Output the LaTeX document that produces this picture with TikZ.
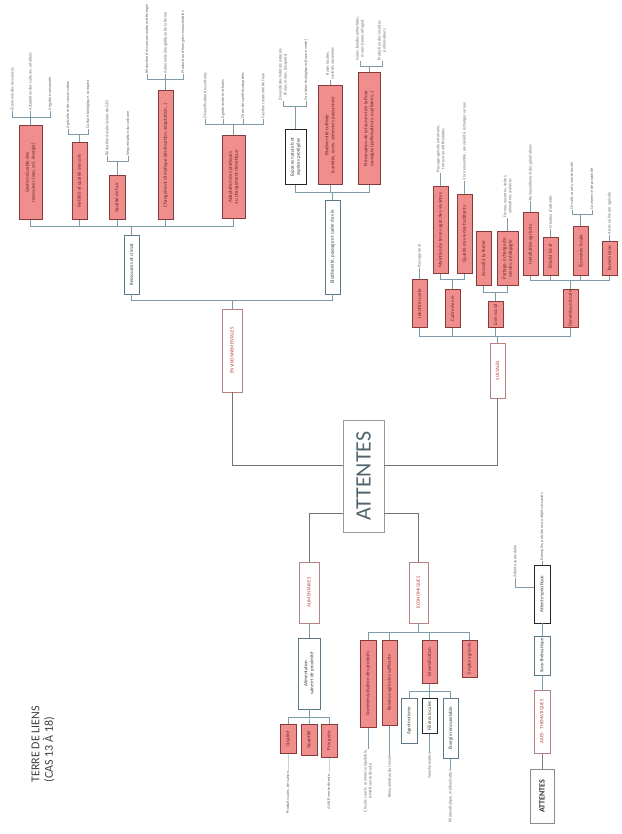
\documentclass[tikz,border=0pt]{standalone}
\usepackage{fontspec}
\setmainfont{Carlito}

\definecolor{linkc}{RGB}{125,155,170}
\definecolor{redf}{RGB}{240,142,142}
\definecolor{redd}{RGB}{135,60,60}
\definecolor{redt}{RGB}{110,35,35}
\definecolor{axed}{RGB}{185,130,130}
\definecolor{axet}{RGB}{190,70,70}
\definecolor{subd}{RGB}{90,120,135}
\definecolor{leaft}{RGB}{105,105,105}
\definecolor{attt}{RGB}{80,100,112}

\tikzset{
  cell/.style={rotate=90, inner sep=1pt, align=center, font=\fontsize{5}{6}\selectfont},
  rcell/.style={cell, draw=redd, fill=redf, text=redt, line width=0.6pt},
  axecell/.style={cell, draw=axed, fill=white, text=axet, line width=0.6pt},
  subcell/.style={cell, draw=subd, fill=white, text=black!75, line width=0.5pt},
  kcell/.style={cell, draw=black!85, fill=white, text=black!75, line width=0.9pt},
  leaf/.style={rotate=90, inner sep=0.5pt, align=center, text=leaft, font=\fontsize{4.2}{5}\selectfont},
  link/.style={draw=linkc, line width=0.6pt},
  mainlink/.style={draw=black!55, line width=0.7pt}
}

\begin{document}
\begin{tikzpicture}[x=1pt, y=-1pt]
\useasboundingbox (0,0) rectangle (621,834);

% titre
\node[rotate=90, anchor=north west, align=left, font=\fontsize{12}{13.5}\selectfont, text=black!75] (titre) at (28,786) {TERRE DE LIENS\\(CAS 13 À 18)};

% centre et axes
\node[cell, draw=black!40, fill=white, text=attt, font=\fontsize{22}{24}\selectfont, minimum width=112, minimum height=41] (att) at (363.5,476) {ATTENTES};
\node[axecell, minimum width=83, minimum height=20] (env) at (232,350.5) {ENVIRONNEMENTALES};
\node[axecell, minimum width=55, minimum height=15] (soc) at (497.5,370.5) {SOCIALES};
\node[axecell, minimum width=61, minimum height=20] (alim) at (309,592.5) {ALIMENTAIRES};
\node[axecell, minimum width=61, minimum height=19] (eco) at (418.5,592.5) {ECONOMIQUES};

\draw[mainlink] (att.62) -| (env.west);
\draw[mainlink] (att.-62) -| (soc.west);
\draw[mainlink] (att.151) -| (alim.east);
\draw[mainlink] (att.-151) -| (eco.east);

% environnementales
\node[subcell, minimum width=59, minimum height=15] (res) at (131.5,264.5) {Ressources et climat};
\node[subcell, minimum width=94, minimum height=15] (bio) at (332.5,247) {Biodiversité, paysage et cadre de vie};
\foreach \c in {res,bio}
  \draw[link] (env.east) -- ++(0,-8) -| (\c.west);

\node[rcell, anchor=west, minimum width=94, minimum height=23] (gest) at (30.5,220) {Gestion durable des\\ressources (eau, sol, énergie)};
\node[rcell, anchor=west, minimum width=77, minimum height=15] (fert) at (79.5,220) {Fertilité et qualité des sols};
\node[rcell, anchor=west, minimum width=44, minimum height=16] (air) at (117,220) {Qualité de l'air};
\node[rcell, anchor=west, minimum width=129, minimum height=15] (clim) at (165.5,220) {Changement climatique (atténuation, adaptation...)};
\node[rcell, anchor=west, minimum width=83, minimum height=23] (adapt) at (233.5,219) {Adaptation des pratiques\\au changement climatique};
\foreach \c in {gest,fert,air,clim,adapt}
  \draw[link] (res.east) -- ++(0,-8) -| (\c.west);

\foreach \n/\x/\y/\t in {gest1/12/111/{Économie des ressources}, gest2/30.5/111/{Adaptation des cultures, rotations}, gest3/50/111/{Irrigation raisonnée},
    fert1/68/129/{Agriculture de conservation}, fert2/88/129/{Culture biologique, compost},
    air1/107/156/{Réduction des émissions de GES}, air2/128/156/{Séquestration du carbone},
    clim1/147/74/{Réduction des consommations d'énergie}, clim2/165.5/74/{Autonomie énergétique de la ferme}, clim3/183/74/{Production d'énergies renouvelables},
    adapt1/205/119/{Diversification des cultures}, adapt2/223/119/{Agroforesterie et haies}, adapt3/243/119/{Choix de variétés adaptées}, adapt4/263/119/{Gestion raisonnée de l'eau}}
  \node[leaf, anchor=west] (\n) at (\x,\y) {\t};

\foreach \p/\l/\d in {gest/gest1/8, gest/gest2/8, gest/gest3/8, fert/fert1/8, fert/fert2/8, air/air1/14, air/air2/14,
    clim/clim1/11, clim/clim2/11, clim/clim3/11, adapt/adapt1/11, adapt/adapt2/11, adapt/adapt3/11, adapt/adapt4/11}
  \draw[link] (\p.east) -- ++(0,-\d) -| (\l.west);

\node[kcell, anchor=west, minimum width=55, minimum height=21] (esp) at (295.5,185) {Espaces naturels et\\espèces protégées};
\node[rcell, anchor=west, minimum width=99, minimum height=24] (biocult) at (330,185) {Biodiversité cultivée\\(variétés, races, semences paysannes)};
\node[rcell, anchor=west, minimum width=112, minimum height=22] (faune) at (369,185) {Préservation de la faune et de la flore\\sauvages (pollinisateurs, auxiliaires...)};
\foreach \c in {esp,biocult,faune}
  \draw[link] (bio.east) -- ++(0,-7) -| (\c.west);

\node[leaf, anchor=west] (esp1) at (283,101) {Diversité des habitats naturels\\(haies, mares, bosquets)};
\node[leaf, anchor=west] (esp2) at (306,101) {Corridors écologiques (trame verte)};
\node[leaf, anchor=west] (biol) at (330,80) {Races locales,\\variétés anciennes};
\node[leaf, anchor=west] (faune1) at (360,61) {Haies, bandes enherbées,\\mares (zones refuges)};
\node[leaf, anchor=west] (faune2) at (382,61) {Protection des insectes\\pollinisateurs};
\foreach \l in {esp1,esp2}
  \draw[link] (esp.east) -- ++(0,-23) -| (\l.west);
\draw[link] (biocult.east) -- (biol.west);
\foreach \l in {faune1,faune2}
  \draw[link] (faune.east) -- ++(0,-6) -| (\l.west);

% sociales
\node[rcell, anchor=west, minimum width=48, minimum height=15] (ident) at (419.5,328) {Identité rurale};
\node[rcell, anchor=west, minimum width=38, minimum height=15] (cadre) at (452.5,328) {Cadre de vie};
\node[rcell, anchor=west, minimum width=26, minimum height=15] (lien) at (495.5,328) {Lien social};
\node[rcell, anchor=west, minimum width=36, minimum height=15] (dyn) at (570.5,328) {Dynamique locale};
\foreach \c in {ident,cadre,lien,dyn}
  \draw[link] (soc.east) -- ++(0,-6) -| (\c.west);

\node[leaf, anchor=west] (identl) at (419.5,268) {Paysage rural};
\draw[link] (ident.east) -- (identl.west);

\node[rcell, anchor=west, minimum width=87, minimum height=15] (maint) at (440.5,274) {Maintien de terres agricoles vivantes};
\node[rcell, anchor=west, minimum width=79, minimum height=15] (qual) at (464.5,274) {Qualité de vie des habitants};
\foreach \c in {maint,qual}
  \draw[link] (cadre.east) -- ++(0,-10) -| (\c.west);
\node[leaf, anchor=west] (maintl) at (440.5,173) {Paysage agricole entretenu,\\terres non artificialisées};
\node[leaf, anchor=west] (quall) at (464.5,181) {Vivre ensemble, convivialité, échanges ruraux};
\draw[link] (maint.east) -- (maintl.west);
\draw[link] (qual.east) -- (quall.west);

\node[rcell, anchor=west, minimum width=54, minimum height=15] (accueil) at (483.5,286) {Accueil à la ferme};
\node[rcell, anchor=west, minimum width=54, minimum height=21] (partage) at (507.5,286) {Partage, échange de\\savoirs, pédagogie};
\foreach \c in {accueil,partage}
  \draw[link] (lien.east) -- ++(0,-9) -| (\c.west);
\node[leaf, anchor=west] (partagel) at (507.5,218) {Fermes ouvertes, visites,\\animations scolaires};
\draw[link] (partage.east) -- (partagel.west);

\node[rcell, anchor=west, minimum width=63, minimum height=15] (install) at (530.5,276) {Installation agricole};
\node[rcell, anchor=west, minimum width=38, minimum height=15] (emploi) at (550.5,276) {Emploi local};
\node[rcell, anchor=west, minimum width=49, minimum height=15] (ecoloc) at (580.5,276) {Économie locale};
\node[rcell, anchor=west, minimum width=34, minimum height=15] (transm) at (609.5,276) {Transmission};
\foreach \c in {install,emploi,ecoloc,transm}
  \draw[link] (dyn.east) -- ++(0,-9) -| (\c.west);
\node[leaf, anchor=west] (installl) at (530.5,201) {Renouvellement des générations};
\node[leaf, anchor=west] (emploil) at (550.5,229) {Création d'activités};
\node[leaf, anchor=west] (ecoloc1) at (572,210) {Circuits courts, vente locale};
\node[leaf, anchor=west] (ecoloc2) at (592,210) {Commerce de proximité};
\node[leaf, anchor=west] (transml) at (609.5,235) {Accès au foncier agricole};
\draw[link] (install.east) -- (installl.west);
\draw[link] (emploi.east) -- (emploil.west);
\draw[link] (transm.east) -- (transml.west);
\foreach \l in {ecoloc1,ecoloc2}
  \draw[link] (ecoloc.east) -- ++(0,-12) -| (\l.west);

% alimentaires
\node[subcell, minimum width=71, minimum height=22] (alimsaine) at (309,673.5) {Alimentation\\saine et de proximité};
\draw[link] (alim.west) -- (alimsaine.east);
\node[rcell, anchor=east, minimum width=29, minimum height=16] (qualite) at (288,724) {Qualité};
\node[rcell, anchor=east, minimum width=31, minimum height=16] (quantite) at (309,724) {Quantité};
\node[rcell, anchor=east, minimum width=33, minimum height=16] (prix) at (329,724) {Prix juste};
\foreach \c in {qualite,quantite,prix}
  \draw[link] (alimsaine.west) -- ++(0,8) -| (\c.east);
\node[leaf, anchor=east] (qualitel) at (288,771) {Produits sains, de saison};
\node[leaf, anchor=east] (prixl) at (329,771) {AMAP, vente directe…};
\draw[link, draw=linkc!45] (qualite.west) -- (qualitel.east);
\draw[link, draw=linkc!45] (prix.west) -- (prixl.east);

% economiques
\node[rcell, anchor=east, minimum width=87, minimum height=16] (comm) at (368,640) {Commercialisation des produits};
\node[rcell, anchor=east, minimum width=85, minimum height=15] (revenu) at (389.5,640) {Revenus agricoles suffisants};
\node[rcell, anchor=east, minimum width=43, minimum height=15] (divers) at (429.5,640) {Diversification};
\node[rcell, anchor=east, minimum width=37, minimum height=15] (emploiag) at (469.5,640) {Emploi agricole};
\foreach \c in {comm,revenu,divers,emploiag}
  \draw[link] (eco.west) -- ++(0,9) -| (\c.east);
\node[leaf, anchor=east] (comml) at (368,749) {Circuits courts, commerce équitable,\\AMAP, vente directe};
\node[leaf, anchor=east] (revenul) at (389.5,756) {Rémunération du travail};
\draw[link] (comm.west) -- (comml.east);
\draw[link] (revenu.west) -- (revenul.east);

\node[subcell, anchor=east, minimum width=45, minimum height=16] (agrotour) at (409,698) {Agrotourisme};
\node[kcell, anchor=east, minimum width=35, minimum height=15] (filieres) at (429.5,698) {Filières locales};
\node[subcell, anchor=east, minimum width=60, minimum height=15] (energie) at (450.5,698) {Énergie renouvelable};
\foreach \c in {agrotour,filieres,energie}
  \draw[link] (divers.west) -- ++(0,8) -| (\c.east);
\node[leaf, anchor=east] (filieresl) at (429.5,752) {Transformation};
\node[leaf, anchor=east] (energiel) at (450.5,769) {Photovoltaïque, méthanisation};
\draw[link] (filieres.west) -- (filieresl.east);
\draw[link] (energie.west) -- (energiel.east);

% legende
\node[cell, draw=black!45, fill=white, text=black!80, font=\fontsize{8}{9}\selectfont\bfseries, minimum width=54, minimum height=24] (lgatt) at (542,796) {ATTENTES};
\node[axecell, minimum width=63, minimum height=16] (lgaxe) at (542,721.5) {AXES - THEMATIQUES};
\node[subcell, minimum width=39, minimum height=16] (lgsub) at (542,655.5) {Sous-thématique};
\node[kcell, minimum width=58, minimum height=16] (lgatt2) at (542,594) {Attente spécifique};
\draw[link, draw=black!50] (lgatt.east) -- (lgaxe.west);
\draw[link] (lgaxe.east) -- (lgsub.west);
\draw[link] (lgsub.east) -- (lgatt2.west);
\node[leaf, anchor=west] (lgobj) at (542,561) {Exemples, précisions ou objets associés};
\node[leaf, anchor=west] (lgnon) at (515,578) {Attente secondaire};
\draw[link] (lgatt2.east) -- (lgobj.west);
\draw[link] (lgatt2.53) -| (lgnon.west);

\end{tikzpicture}
\end{document}
